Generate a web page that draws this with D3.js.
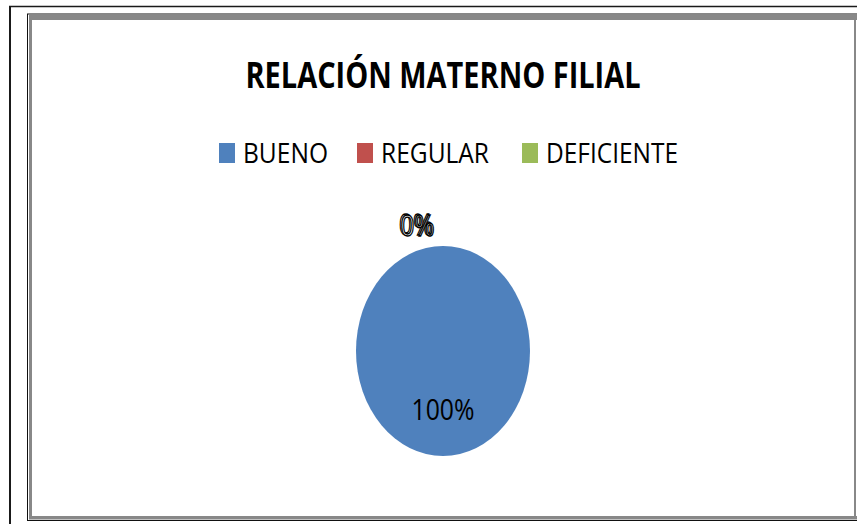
<!DOCTYPE html>
<html><head><meta charset="utf-8">
<script src="https://cdn.jsdelivr.net/npm/d3@7"></script>
<style>html,body{margin:0;padding:0;background:#fff}</style>
</head><body>
<script>
const title = "RELACIÓN MATERNO FILIAL";
const categories = ["BUENO", "REGULAR", "DEFICIENTE"];
const values = [100, 0, 0];
const colors = ["#4F81BD", "#C0504D", "#9BBB59"];
const percentLabels = ["100%", "0%", "0%"];

const W = 857, H = 524;
const svg = d3.select("body").append("svg").attr("width", W).attr("height", H);
const font = "'Open Sans', 'Liberation Sans', sans-serif";
const sy = 1.2;

// frames
svg.append("line").attr("x1",9).attr("x2",857).attr("y1",6.5).attr("y2",6.5).attr("stroke","#1a1a1a").attr("stroke-width",1.5);
svg.append("line").attr("x1",10).attr("x2",10).attr("y1",6).attr("y2",524).attr("stroke","#1a1a1a").attr("stroke-width",2);
svg.append("rect").attr("x",27.5).attr("y",14).attr("width",840).attr("height",506.5).attr("fill","none").attr("stroke","#111").attr("stroke-width",1);
svg.append("rect").attr("x",29).attr("y",15).attr("width",828).attr("height",5).attr("fill","#888");
svg.append("rect").attr("x",29).attr("y",15).attr("width",3).attr("height",504).attr("fill","#888");
svg.append("rect").attr("x",29).attr("y",516).attr("width",828).attr("height",3.5).attr("fill","#888");
svg.append("rect").attr("x",854).attr("y",15).attr("width",2).attr("height",504).attr("fill","#888");

// title
svg.append("text").attr("transform",`translate(443,88) scale(1,${sy})`)
  .attr("text-anchor","middle").attr("font-family",font).attr("font-weight","bold")
  .attr("font-size",30).attr("textLength",395).attr("lengthAdjust","spacingAndGlyphs")
  .attr("fill","#000").text(title);

// legend
const legX = [219, 357, 522];
const legW = [85, 108, 132];
const lg = svg.append("g");
categories.forEach((c,i)=>{
  lg.append("rect").attr("x",legX[i]).attr("y",143).attr("width",16).attr("height",20).attr("fill",colors[i]);
  lg.append("text").attr("transform",`translate(${legX[i]+24},163) scale(1,${sy})`)
    .attr("font-family",font).attr("font-size",23).attr("textLength",legW[i]).attr("lengthAdjust","spacingAndGlyphs")
    .attr("fill","#000").text(c);
});

// pie
const r = 87;
const pie = d3.pie().sort(null).value(d=>d)(values);
const arc = d3.arc().innerRadius(0).outerRadius(r);
const pg = svg.append("g").attr("transform",`translate(443,351) scale(1,1.207)`);
pg.selectAll("path").data(pie).join("path").attr("d",arc).attr("fill",(d,i)=>colors[i]);

// labels
pie.forEach((d,i)=>{
  if (values[i] > 0) {
    const [cx, cy] = d3.arc().innerRadius(r*0.7).outerRadius(r*0.7).centroid(d);
    svg.append("text").attr("transform",`translate(${443+cx},${351+cy*1.207-5}) scale(1,${sy})`)
      .attr("text-anchor","middle").attr("font-family",font).attr("font-size",24)
      .attr("textLength",63).attr("lengthAdjust","spacingAndGlyphs").attr("fill","#000").text(percentLabels[i]);
  } else {
    const [cx, cy] = d3.arc().innerRadius(r*1.25).outerRadius(r*1.25).centroid(d);
    const off = i - 1;
    svg.append("text").attr("transform",`translate(${443+cx-10+off*1.5},${351+cy*1.207+15+off}) scale(1,${sy})`)
      .attr("text-anchor","end").attr("font-family",font).attr("font-size",24)
      .attr("textLength",34).attr("lengthAdjust","spacingAndGlyphs")
      .attr("fill","#fff").attr("stroke","#000").attr("stroke-width",1.1).text(percentLabels[i]);
  }
});
</script>
</body></html>
